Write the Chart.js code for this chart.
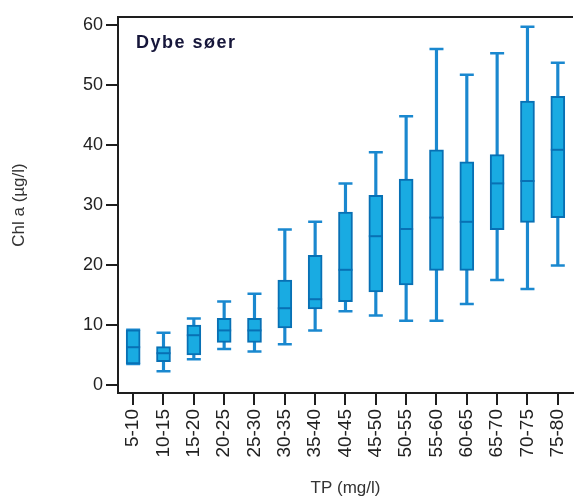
<!DOCTYPE html>
<html>
<head>
<meta charset="utf-8">
<script src="https://cdn.jsdelivr.net/npm/chart.js@4.4.1/dist/chart.umd.min.js"></script>
<style>
  html, body { margin: 0; padding: 0; overflow: hidden; background: #fff; }
</style>
</head>
<body>
<canvas id="myChart" width="585" height="502"></canvas>
<script>
// TP classes (mg/l) and Chl a box stats (µg/l)
const categories = ['5-10', '10-15', '15-20', '20-25', '25-30', '30-35', '35-40', '40-45',
    '45-50', '50-55', '55-60', '60-65', '65-70', '70-75', '75-80'];
const whiskerLow  = [3.5, 2.3, 4.3, 6.0, 5.6, 6.8, 9.1, 12.3, 11.6, 10.7, 10.7, 13.5, 17.5, 16.0, 19.9];
const boxLow      = [3.5, 3.9, 5.0, 7.1, 7.1, 9.5, 12.7, 13.9, 15.5, 16.7, 19.1, 19.1, 25.9, 27.1, 27.9];
const medians     = [6.3, 5.3, 8.3, 9.1, 9.1, 12.8, 14.3, 19.2, 24.8, 26.0, 27.9, 27.2, 33.6, 34.0, 39.2];
const boxHigh     = [9.2, 6.4, 10.0, 11.1, 11.1, 17.5, 21.6, 28.8, 31.6, 34.3, 39.2, 37.2, 38.4, 47.3, 48.1];
const whiskerHigh = [9.2, 8.7, 11.1, 13.9, 15.2, 25.9, 27.2, 33.6, 38.8, 44.8, 56.0, 51.7, 55.3, 59.7, 53.7];
const yTicks = [0, 10, 20, 30, 40, 50, 60];

const fillColor = '#19abe2';
const edgeColor = '#0870b4';
const whiskerColor = '#1a88cf';
const axisColor = '#1e1e1e';
const fontName = '"Liberation Sans", Arial, sans-serif';

const panelTitle = {
    id: 'panelTitle',
    afterDraw(chart) {
        const ctx = chart.ctx;
        const area = chart.chartArea;
        ctx.save();
        ctx.font = 'bold 18px ' + fontName;
        ctx.letterSpacing = '1.5px';
        ctx.fillStyle = '#16163a';
        ctx.textBaseline = 'alphabetic';
        ctx.fillText('Dybe søer', area.left + 18, area.top + 31);
        ctx.restore();
    }
};

const ctx = document.getElementById('myChart').getContext('2d');
const myChart = new Chart(ctx, {
    data: {
        labels: categories,
        datasets: [
            {
                type: 'bar',
                data: categories.map((c, i) => [whiskerLow[i], whiskerHigh[i]]),
                backgroundColor: whiskerColor,
                barThickness: 2.5,
                grouped: false,
                order: 4
            },
            {
                type: 'line',
                data: whiskerLow,
                showLine: false,
                pointStyle: 'line',
                pointRadius: 7,
                borderWidth: 2.5,
                borderColor: whiskerColor,
                order: 5
            },
            {
                type: 'line',
                data: whiskerHigh,
                showLine: false,
                pointStyle: 'line',
                pointRadius: 7,
                borderWidth: 2.5,
                borderColor: whiskerColor,
                order: 5
            },
            {
                type: 'bar',
                data: categories.map((c, i) => [boxLow[i], boxHigh[i]]),
                backgroundColor: fillColor,
                borderColor: edgeColor,
                borderWidth: 2,
                borderSkipped: false,
                barThickness: 14,
                grouped: false,
                order: 2
            },
            {
                type: 'line',
                data: medians,
                showLine: false,
                pointStyle: 'line',
                pointRadius: 7,
                borderWidth: 2,
                borderColor: edgeColor,
                order: 1
            }
        ]
    },
    options: {
        responsive: false,
        animation: false,
        events: [],
        layout: { padding: { left: 0, right: 4, top: 0, bottom: 0 } },
        plugins: {
            legend: { display: false },
            tooltip: { enabled: false }
        },
        scales: {
            x: {
                type: 'category',
                position: 'bottom',
                offset: true,
                grid: { offset: false, drawOnChartArea: false, drawTicks: true, tickLength: 12, color: axisColor, lineWidth: 2 },
                border: { display: true, color: axisColor, width: 2 },
                ticks: {
                    minRotation: 90, maxRotation: 90, autoSkip: false, padding: 4,
                    color: '#222', font: { family: fontName, size: 19 }
                },
                title: {
                    display: true, text: 'TP (mg/l)', color: '#333',
                    font: { family: fontName, size: 17 }, padding: { top: 4, bottom: 3 }
                },
                afterFit: s => { s.height = 109; }
            },
            xTop: {
                type: 'category',
                position: 'top',
                offset: true,
                grid: { drawOnChartArea: false, drawTicks: false },
                border: { display: true, color: axisColor, width: 2 },
                ticks: { display: false },
                afterFit: s => { s.height = 17; }
            },
            y: {
                type: 'linear',
                min: -1.33,
                max: 61.33,
                afterBuildTicks: s => { s.ticks = yTicks.map(v => ({ value: v })); },
                grid: { drawOnChartArea: false, drawTicks: true, tickLength: 12, color: axisColor, lineWidth: 2 },
                border: { display: true, color: axisColor, width: 2 },
                ticks: { color: '#222', padding: 3, font: { family: fontName, size: 18 } },
                title: {
                    display: true, text: 'Chl a (µg/l)', color: '#333',
                    font: { family: fontName, size: 17 }, padding: { top: 9, bottom: 0 }
                },
                afterFit: s => { s.width = 118; }
            }
        }
    },
    plugins: [panelTitle]
});
</script>
</body>
</html>
